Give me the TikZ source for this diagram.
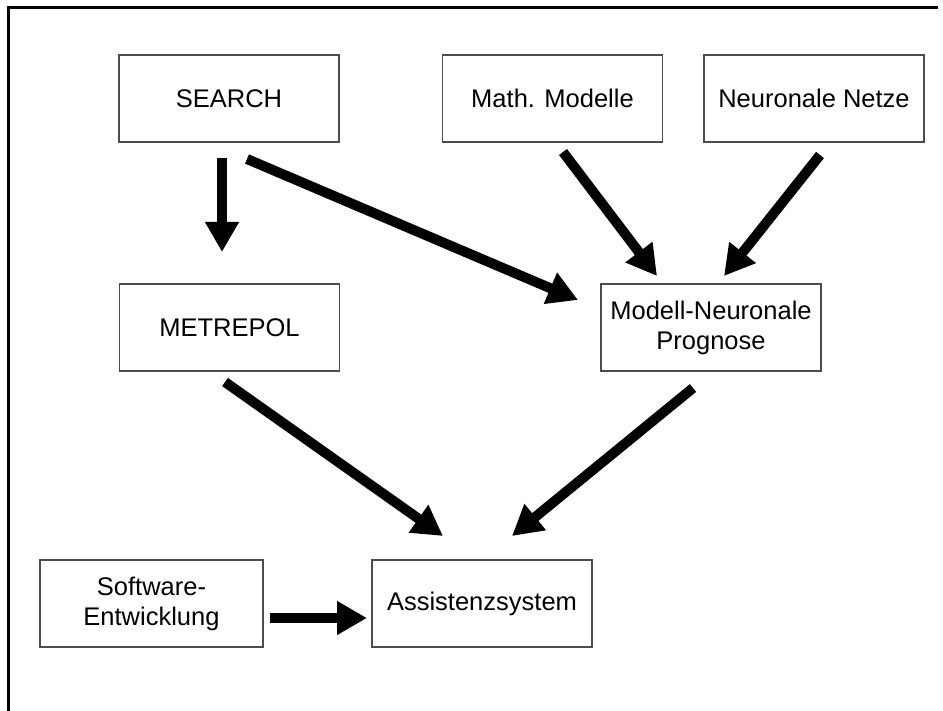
\documentclass[tikz,border=0pt]{standalone}
\usepackage{fontspec}
\setmainfont{Liberation Sans}
\usetikzlibrary{arrows.meta}
\begin{document}
\begin{tikzpicture}[x=1pt,y=-1pt,
  box/.style={draw=black!70,line width=1.3pt,inner sep=0pt,align=center,
    minimum width=220pt,minimum height=87pt,
    font=\fontsize{25.5}{30}\selectfont},
  bigarrow/.style={line width=10pt,-{Triangle[length=30pt,width=32pt]}}]
\useasboundingbox (0,0) rectangle (943,711);
\draw[line width=3pt] (8.5,711) -- (8.5,8) -- (938,8);
\node[box] (search) at (229,98.5) {SEARCH};
\node[box] (math) at (552.5,98.5) {Math. Modelle};
\node[box] (netze) at (814,98.5) {Neuronale Netze};
\node[box] (metrepol) at (229.5,327.5) {METREPOL};
\node[box] (mnp) at (711,327.5) {Modell-Neuronale\\Prognose};
\node[box,minimum width=223pt] (soft) at (151.5,603.5) {Software-\\Entwicklung};
\node[box] (assist) at (482,603.5) {Assistenzsystem};
\coordinate (s1) at (222,158);
\coordinate (s1e) at (222,252);
\coordinate (s2) at (247,159);
\coordinate (s2e) at (578,300);
\coordinate (m1) at (563,152);
\coordinate (m1e) at (657,276);
\coordinate (n1) at (820,155);
\coordinate (n1e) at (724,276);
\coordinate (r1) at (225,382);
\coordinate (r1e) at (443,536);
\coordinate (p1) at (693,388);
\coordinate (p1e) at (512,536);
\coordinate (w1) at (270,618);
\coordinate (w1e) at (367,618);
\draw[bigarrow] (s1) -- (s1e);
\draw[bigarrow] (s2) -- (s2e);
\draw[bigarrow] (m1) -- (m1e);
\draw[bigarrow] (n1) -- (n1e);
\draw[bigarrow] (r1) -- (r1e);
\draw[bigarrow] (p1) -- (p1e);
\draw[bigarrow] (w1) -- (w1e);
\end{tikzpicture}
\end{document}
